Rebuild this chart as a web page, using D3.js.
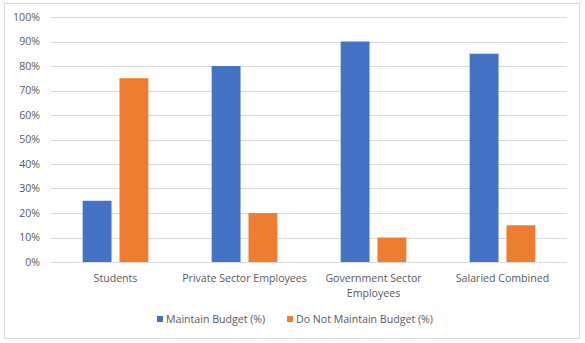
<!DOCTYPE html>
<html><head><meta charset="utf-8">
<script src="https://cdn.jsdelivr.net/npm/d3@7"></script>
<style>body{margin:0;background:#fff;font-family:"Open Sans","Noto Sans",sans-serif;}</style>
</head><body>
<svg id="c" width="585" height="343"></svg>
<script>
const categories = ["Students", "Private Sector Employees", "Government Sector Employees", "Salaried Combined"];
const categoryLines = [["Students"], ["Private Sector Employees"], ["Government Sector", "Employees"], ["Salaried Combined"]];
const seriesNames = ["Maintain Budget (%)", "Do Not Maintain Budget (%)"];
const maintain = [25, 80, 90, 85];
const notMaintain = [75, 20, 10, 15];
const colors = ["#4472C4", "#ED7D31"];
const yTicks = [0,10,20,30,40,50,60,70,80,90,100];

(function(){
const svg = d3.select("#c");
const fs = 10.6;
svg.append("rect").attr("x",4.5).attr("y",3.5).attr("width",575).attr("height",335)
  .attr("fill","#fff").attr("stroke","#d9d9d9");

const pLeft = 51, pRight = 567, pTop = 17, pBottom = 262;
const x0 = d3.scaleBand().domain(categories).range([pLeft, pRight]).paddingInner(0).paddingOuter(0);
const x1 = d3.scaleBand().domain(seriesNames).range([0, x0.bandwidth()]).paddingInner(0.216).paddingOuter(0.86);
const y = d3.scaleLinear().domain([0,100]).range([pBottom, pTop]);

const grid = svg.append("g");
yTicks.forEach(t => {
  grid.append("line").attr("x1", pLeft).attr("x2", pRight).attr("y1", Math.round(y(t))+0.5).attr("y2", Math.round(y(t))+0.5)
    .attr("stroke", "#d9d9d9").attr("stroke-width", 1);
  svg.append("text").attr("x", 40).attr("y", y(t)).attr("dy","0.35em").attr("text-anchor","end")
    .attr("font-size", fs).attr("fill", "#595959").text(t + "%");
});

const series = [maintain, notMaintain];
series.forEach((vals, si) => {
  svg.append("g").selectAll("rect").data(vals).join("rect")
    .attr("x", (d,i) => x0(categories[i]) + x1(seriesNames[si]))
    .attr("width", x1.bandwidth())
    .attr("y", d => y(d))
    .attr("height", d => y(0) - y(d))
    .attr("fill", colors[si]);
});

categoryLines.forEach((lines, i) => {
  const cx = x0(categories[i]) + x0.bandwidth()/2;
  const t = svg.append("text").attr("text-anchor","middle").attr("font-size",fs).attr("fill","#595959");
  lines.forEach((l, j) => t.append("tspan").attr("x", cx).attr("y", 282 + j*15).text(l));
});

const legend = [{x:157, name:seriesNames[0], c:colors[0]},{x:287, name:seriesNames[1], c:colors[1]}];
legend.forEach(l => {
  svg.append("rect").attr("x", l.x).attr("y", 316).attr("width", 6).attr("height", 6).attr("fill", l.c);
  svg.append("text").attr("x", l.x + 9).attr("y", 319).attr("dy","0.35em").attr("font-size",fs).attr("fill","#595959").text(l.name);
});
})();
</script>
</body></html>
